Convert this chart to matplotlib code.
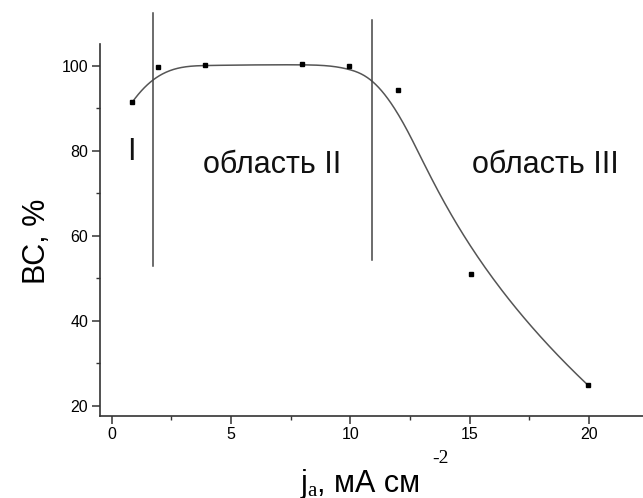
import numpy as np
import matplotlib.pyplot as plt

# current density, mA/cm^2, and current efficiency, %
j_a = [0.86, 1.93, 3.91, 7.99, 9.93, 12.0, 15.04, 19.94]
bc = [91.4, 99.8, 100.1, 100.3, 100.0, 94.3, 51.0, 24.9]

# region boundaries (x) and their vertical extent
bounds_x = [1.74, 10.9]
bounds_lo = [52.9, 54.3]
bounds_hi = [112.4, 110.8]

region_labels = ['I', 'область II', 'область III']
region_x = [0.64, 3.82, 15.09]
region_y = [79.7, 76.6, 76.6]


def bspline(cx, cy, degree=3, num=500):
    # clamped uniform B-spline with the data points as control points
    cx = np.asarray(cx, float)
    cy = np.asarray(cy, float)
    n = len(cx)
    knots = np.concatenate([np.zeros(degree + 1),
                            np.arange(1, n - degree),
                            np.full(degree + 1, n - degree)]).astype(float)
    t = np.linspace(0, n - degree, num)
    t[-1] -= 1e-9
    B = np.zeros((num, len(knots) - 1))
    for i in range(len(knots) - 1):
        B[:, i] = (knots[i] <= t) & (t < knots[i + 1])
    for k in range(1, degree + 1):
        Bn = np.zeros((num, len(knots) - k - 1))
        for i in range(len(knots) - k - 1):
            d1 = knots[i + k] - knots[i]
            d2 = knots[i + k + 1] - knots[i + 1]
            a = (t - knots[i]) / d1 * B[:, i] if d1 > 0 else 0
            b = (knots[i + k + 1] - t) / d2 * B[:, i + 1] if d2 > 0 else 0
            Bn[:, i] = a + b
        B = Bn
    return B @ cx, B @ cy


plt.rcParams['font.family'] = ['Liberation Sans', 'DejaVu Sans']

fig = plt.figure(figsize=(6.43, 4.98), dpi=100)
ax = fig.add_axes([0.1555, 0.1653, 0.8445, 0.7454])

sx, sy = bspline(j_a, bc)
ax.plot(sx, sy, color='#555555', lw=1.1)
ax.plot(j_a, bc, 's', color='black', ms=3.4)

for x, lo, hi in zip(bounds_x, bounds_lo, bounds_hi):
    ax.plot([x, x], [lo, hi], color='#444444', lw=1.1, clip_on=False)

for lab, x, y in zip(region_labels, region_x, region_y):
    ax.text(x, y, lab, fontsize=22, va='center', ha='left', color='#111111')

ax.set_xlim(-0.49, 22.26)
ax.set_ylim(17.65, 105)
ax.set_xticks([0, 5, 10, 15, 20])
ax.set_xticks(np.arange(2.5, 22, 5), minor=True)
ax.set_yticks([20, 40, 60, 80, 100])
ax.set_yticks([30, 50, 70, 90], minor=True)

for side in ['top', 'right']:
    ax.spines[side].set_visible(False)
for side in ['left', 'bottom']:
    ax.spines[side].set_linewidth(1.2)
    ax.spines[side].set_color('#333333')

ax.tick_params(which='major', length=5.5, width=1.1, labelsize=11.5, color='#333333', pad=3)
ax.tick_params(which='minor', length=3, width=1.0, color='#333333')

ax.set_ylabel('ВС, %', fontsize=22)
ax.yaxis.set_label_coords(-0.088, 0.47)

# x axis label: j_a, мА см^-2
by = 1 - 492 / 498
fig.text(301 / 643, by, 'j', fontsize=22, va='baseline')
fig.text(307 / 643, by - 4 / 498, 'a', fontsize=15, va='baseline', family='Liberation Serif')
fig.text(317 / 643, by, ', мА см', fontsize=22, va='baseline')
fig.text(432 / 643, 1 - 463 / 498, '-2', fontsize=14, va='baseline', family='Liberation Serif')

fig.savefig('out.png', dpi=100)
